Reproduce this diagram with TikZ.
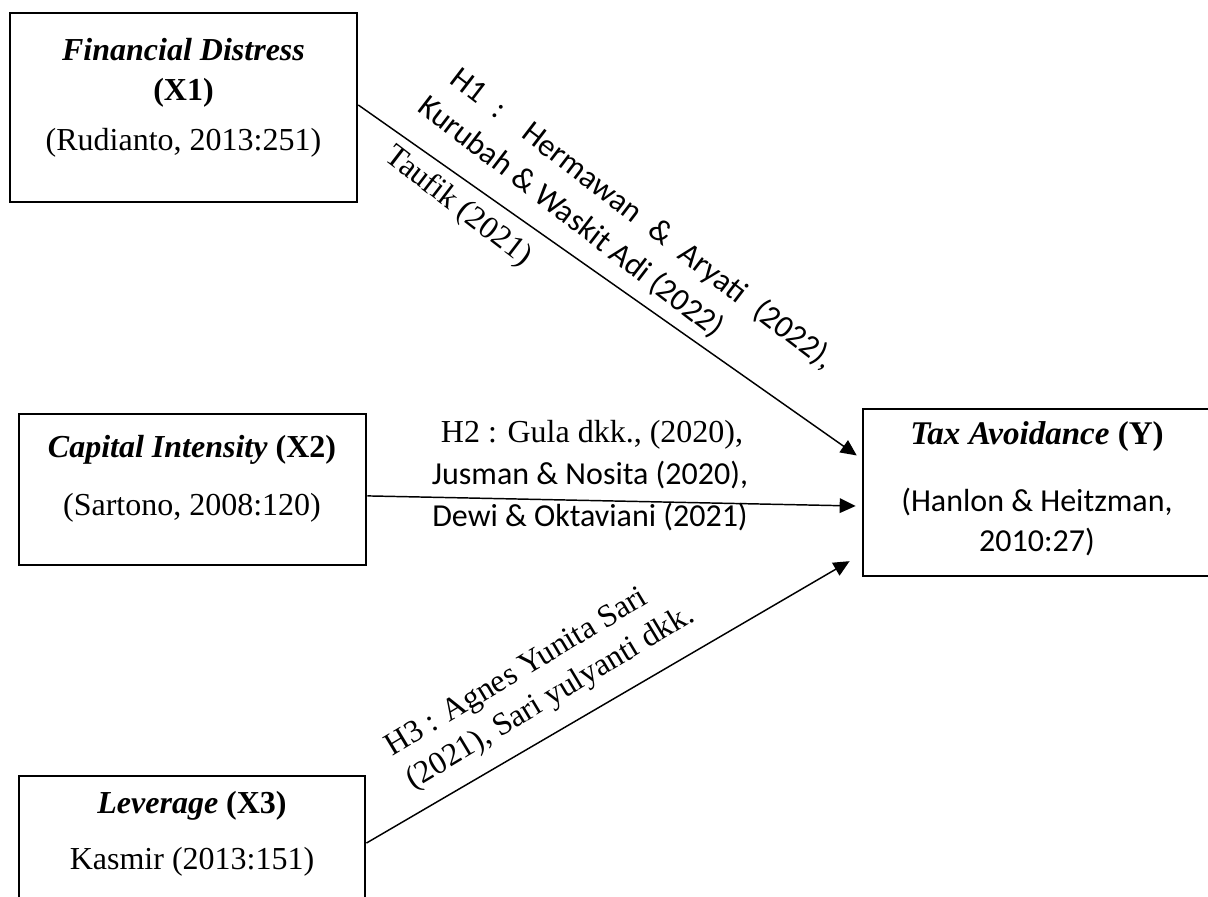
\documentclass[tikz,border=0pt]{standalone}
\usepackage{fontspec}
\setmainfont{Liberation Serif}
\newfontfamily\calibrifont{Carlito}
\usetikzlibrary{arrows.meta}
\begin{document}
\begin{tikzpicture}[x=0.375pt,y=-0.375pt,
  box/.style={draw, line width=1pt, inner sep=0pt},
  lbl/.style={inner sep=0pt, font=\fontsize{12}{14}\selectfont},
  cal/.style={inner sep=0pt, font=\fontsize{12}{14}\selectfont\calibrifont},
  conn/.style={line width=0.55pt, -{Triangle[length=6pt,width=5.5pt]}}]
\useasboundingbox (0,0) rectangle (1208,897);
\clip (0,0) rectangle (1208,897);
% boxes
\node[box, minimum width=130.1pt, minimum height=70.9pt] (x1) at (183.5,107.5) {};
\node[box, minimum width=130.1pt, minimum height=56.6pt] (x2) at (192.5,489.5) {};
\node[box, minimum width=129.8pt, minimum height=61.5pt] (x3) at (192,858) {};
\node[box, minimum width=130.5pt, minimum height=62.6pt] (y) at (1037,492.5) {};
% box texts
\node[lbl] (x1a) at (183.5,50) {\textbf{\textit{Financial Distress}}};
\node[lbl] (x1b) at (183.5,93) {\textbf{(X1)}};
\node[lbl] (x1c) at (183.5,143) {(Rudianto, 2013:251)};
\node[lbl] (x2a) at (192,450) {\textbf{\textit{Capital Intensity}} \textbf{(X2)}};
\node[lbl] (x2b) at (192,508) {(Sartono, 2008:120)};
\node[lbl] (x3a) at (192,806) {\textbf{\textit{Leverage}} \textbf{(X3)}};
\node[lbl] (x3b) at (192,862) {Kasmir (2013:151)};
\node[lbl, font=\fontsize{12.4}{14}\selectfont] (ya) at (1037,437) {\textbf{\textit{Tax Avoidance}} \textbf{(Y)}};
\node[cal] (yb) at (1037,502) {(Hanlon \& Heitzman,};
\node[cal] (yc) at (1037,542) {2010:27)};
% connectors
\draw[conn, shorten >=2.25pt] ([yshift=0.94pt]x1.east) -- ([yshift=12.6pt]y.west);
\draw[conn, shorten >=2.25pt] ([yshift=-2.4pt]x2.east) -- ([yshift=-5.1pt]y.west);
\draw[conn, shorten >=5.25pt] ([yshift=5.6pt]x3.east) -- ([yshift=-23.1pt]y.west);
% H1 label
\node[cal, rotate=-37.5] (h1a) at (642,219) {\makebox[177.6pt][s]{H1 : Hermawan \& Aryati (2022),}};
\node[cal, rotate=-37.5] (h1b) at (571,217) {Kurubah \& Waskit Adi (2022)};
\node[lbl, rotate=-37.5] (h1c) at (458,207) {Taufik (2021)};
% H2 label
\node[lbl] (h2a) at (592,435) {H2 : Gula dkk., (2020),};
\node[cal] (h2b) at (590,475) {Jusman \& Nosita (2020),};
\node[cal] (h2c) at (590,517) {Dewi \& Oktaviani (2021)};
% H3 label
\node[lbl, rotate=31, anchor=base west] (h3a) at (392,757) {H3 : Agnes Yunita Sari};
\node[lbl, rotate=31, anchor=base west] (h3b) at (413,790) {(2021), Sari yulyanti dkk.};
\end{tikzpicture}
\end{document}
